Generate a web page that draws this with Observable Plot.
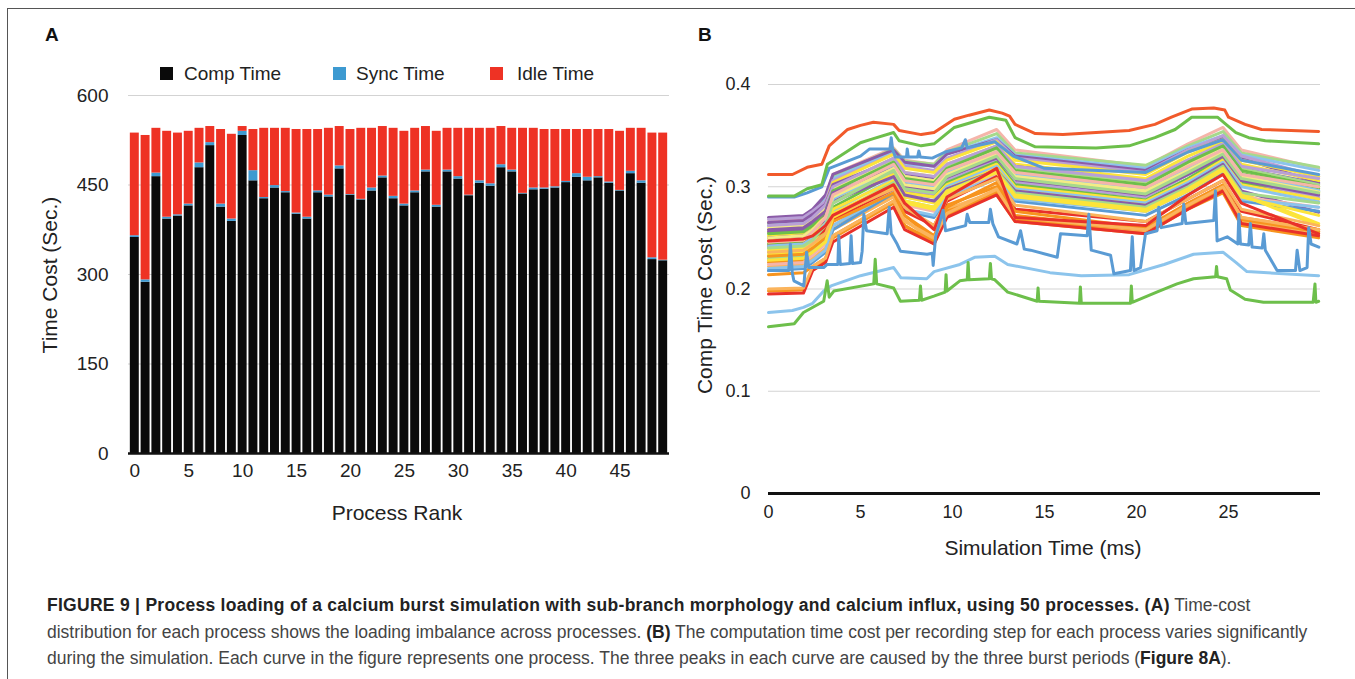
<!DOCTYPE html>
<html>
<head>
<meta charset="utf-8">
<script src="https://cdn.jsdelivr.net/npm/d3@7"></script>
<script src="https://cdn.jsdelivr.net/npm/@observablehq/plot@0.6"></script>
<style>
  html, body { margin: 0; padding: 0; background: #fff; }
  body { width: 1355px; height: 679px; position: relative; overflow: hidden;
         font-family: "Liberation Sans", Arial, Helvetica, sans-serif; color: #222; }
  .abs { position: absolute; white-space: nowrap; }
  #frame { position: absolute; left: 7px; top: 8px; width: 1400px; height: 700px;
           border-top: 1.5px solid #555; border-left: 1.5px solid #555; }
  .panel { font-weight: bold; font-size: 19px; color: #111; }
  .leg { font-size: 19px; color: #222; line-height: 20px; }
  .sw { position: absolute; width: 13px; height: 13px; }
  .atitle { font-size: 21px; color: #222; }
  .rot { transform: translate(-50%, -50%) rotate(-90deg); }
  .hc { transform: translate(-50%, -50%); }
  #caption { left: 47px; top: 592px; font-size: 17.5px; line-height: 26.5px; color: #444; }
  #caption b { color: #222; }
  #caption b.wide { letter-spacing: 0.28px; }
</style>
</head>
<body>
<div id="frame"></div>
<div class="abs panel" style="left:45px;top:24px;">A</div>
<div class="abs panel" style="left:698px;top:24px;">B</div>

<div class="sw" style="left:160px;top:67px;background:#0a0a0a;"></div>
<div class="abs leg" style="left:184px;top:64px;">Comp Time</div>
<div class="sw" style="left:333px;top:67px;background:#3d9ad1;"></div>
<div class="abs leg" style="left:356px;top:64px;">Sync Time</div>
<div class="sw" style="left:490px;top:67px;background:#ee3224;"></div>
<div class="abs leg" style="left:517px;top:64px;">Idle Time</div>

<div id="chartA" class="abs" style="left:0;top:0;"></div>
<div id="chartB" class="abs" style="left:680px;top:0;"></div>

<div class="abs atitle rot" style="left:50px;top:275px;">Time Cost (Sec.)</div>
<div class="abs atitle hc" style="left:397px;top:513px;">Process Rank</div>
<div class="abs atitle rot" style="left:705px;top:285px;">Comp Time Cost (Sec.)</div>
<div class="abs atitle hc" style="left:1043px;top:548px;">Simulation Time (ms)</div>

<div id="caption" class="abs"><b class="wide">FIGURE 9 | Process loading of a calcium burst simulation with sub-branch morphology and calcium influx, using 50 processes. (A)</b> Time-cost<br>distribution for each process shows the loading imbalance across processes. <b>(B)</b> The computation time cost per recording step for each process varies significantly<br>during the simulation. Each curve in the figure represents one process. The three peaks in each curve are caused by the three burst periods (<b>Figure 8A</b>).</div>

<script>
// ---------------- Panel A data ----------------
const ranks = [0,1,2,3,4,5,6,7,8,9,10,11,12,13,14,15,16,17,18,19,20,21,22,23,24,25,26,27,28,29,30,31,32,33,34,35,36,37,38,39,40,41,42,43,44,45,46,47,48,49];
const rankTicks = [0,5,10,15,20,25,30,35,40,45];
const compTime = [362,287,464,393,398,415,479,516,413,389,533,457,427,445,437,401,393,437,430,477,433,425,440,462,427,415,437,472,413,472,460,432,453,448,479,472,435,442,443,445,454,463,457,462,453,440,469,453,325,323];
const syncTime = [3,4,6,3,2,3,8,5,5,4,7,17,2,4,2,2,3,3,3,5,1,1,5,3,4,3,3,3,3,3,4,1,4,4,5,3,1,3,2,2,2,6,6,2,2,1,4,4,3,1];
const idleTime = [172,242,75,144,137,122,58,27,125,142,8,69,116,96,106,140,147,103,112,66,109,119,100,83,114,122,105,73,124,70,81,112,88,93,64,70,109,100,98,96,87,74,80,79,88,99,72,88,209,213];
const kinds = ["Comp Time", "Sync Time", "Idle Time"];
const kindColors = ["#0a0a0a", "#3d9ad1", "#ee3224"];
const yTicksA = [0,150,300,450,600];

// ---------------- Panel B data ----------------
const xTicksB = [0,5,10,15,20,25];
const yTicksB = [0,0.1,0.2,0.3,0.4];
const palette = {
  red: "#e8312a", orange: "#f7941e", lorange: "#fbb45c", yellow: "#fce43a", lyellow: "#f3ec86",
  green: "#6dbf4b", lgreen: "#a6d98c", blue: "#5a9bd4", lblue: "#8cc4ec", purple: "#8b5ca8",
  lpurple: "#b9a0d6", pink: "#f5b5aa", ored: "#f15a2b"
};
// time points (ms) at which each bundle curve is read; values in ms (computation time per step)
const bandTimes = [0,1.9,2.4,3.1,3.5,6.8,7.4,9.0,9.7,12.4,13.4,20.5,22.8,24.7,25.7,29.9];
const bandColors = ["pink","lgreen","lblue","purple","lpurple","yellow","yellow","purple","green","lgreen","lblue","yellow","lyellow","purple","lpurple","green","yellow","lblue","orange","lorange","orange","yellow","purple","pink","lgreen","blue","lblue","yellow","red","lyellow","lpurple","green","lblue","orange","yellow","purple","orange","red","lorange","lorange","lyellow","lgreen","pink","red"];
const bandMs = [
  [266,268,276,290,312,338,326,322,336,356,336,320,342,358,336,318],
  [264,266,274,290,310,337,325,322,334,352,333,321,340,354,333,319],
  [262,265,272,288,308,334,322,320,332,348,331,318,338,350,331,316],
  [270,272,278,292,312,336,324,320,332,346,330,316,336,348,328,304],
  [268,270,276,286,306,332,320,316,328,346,328,314,336,350,330,310],
  [258,260,268,282,304,332,318,314,326,344,326,312,334,346,326,310],
  [255,257,264,278,300,328,314,310,322,340,322,308,330,344,322,306],
  [265,267,273,283,302,326,312,308,320,338,320,305,326,340,318,303],
  [244,246,252,266,290,322,306,302,316,336,314,300,322,338,314,298],
  [250,252,258,272,296,326,310,306,320,340,318,304,326,342,318,302],
  [236,238,246,260,286,318,302,298,314,334,312,298,320,336,312,296],
  [252,254,260,272,292,320,304,300,314,332,312,296,318,336,312,294],
  [248,250,256,268,290,318,300,296,310,330,308,294,316,334,310,292],
  [256,258,264,274,292,318,300,296,308,326,306,290,312,330,304,288],
  [240,242,250,262,284,314,296,292,306,326,304,290,312,330,306,290],
  [232,234,242,256,280,312,294,290,304,324,302,287,308,328,304,295],
  [246,248,254,266,286,312,294,290,302,322,300,286,306,326,302,288],
  [228,230,238,252,276,308,290,286,300,320,298,284,304,324,300,285],
  [226,228,234,246,262,292,272,248,282,300,272,258,282,298,268,256],
  [222,224,230,240,258,290,268,246,278,296,268,256,280,296,266,254],
  [214,216,222,230,252,286,262,244,276,292,266,254,278,294,262,250],
  [238,240,248,258,278,306,290,284,298,318,296,282,300,320,294,264],
  [250,252,258,268,286,310,292,286,298,316,296,282,302,322,296,275],
  [224,226,233,244,266,300,282,276,292,312,290,276,296,318,290,280],
  [230,232,238,250,272,304,286,280,296,316,294,280,300,320,294,284],
  [218,220,226,236,258,294,276,270,288,308,286,272,292,314,286,276],
  [220,222,228,238,262,296,278,272,290,310,288,276,296,316,288,280],
  [234,236,242,254,274,302,286,280,296,314,292,278,298,318,292,262],
  [242,244,250,258,268,298,276,262,286,310,278,266,288,306,276,258],
  [260,262,268,280,298,324,310,306,318,336,316,302,322,338,316,300],
  [262,264,270,282,300,328,314,310,322,340,320,306,326,342,320,308],
  [254,256,262,276,296,324,308,304,318,338,316,302,324,340,316,300],
  [242,244,250,264,288,320,304,300,314,334,312,298,318,336,312,296],
  [232,234,240,250,266,294,272,252,280,304,276,260,284,302,270,258],
  [228,230,236,246,270,300,284,278,294,314,290,276,296,316,290,272],
  [258,260,266,276,294,318,302,296,310,328,308,292,312,330,306,292],
  [198,199,220,228,250,284,262,246,272,294,268,258,280,300,268,256],
  [195,196,218,226,246,280,258,244,270,292,266,254,278,296,264,252],
  [200,201,222,230,252,286,266,250,274,298,270,258,282,300,270,258],
  [236,238,244,254,272,298,280,262,288,308,282,266,288,306,278,262],
  [250,252,258,270,290,318,302,298,312,332,310,296,316,334,310,295],
  [240,242,248,262,284,316,298,294,310,330,308,293,314,332,308,294],
  [246,248,256,270,292,322,306,302,316,334,314,299,320,336,312,300],
  [247,249,252,262,272,302,284,258,290,318,270,262,292,312,284,254]
];
// individually traced curves: [time ms, value ms]
const curveLightBlue = [[0,177],[1.3,179],[1.9,182],[2.4,186],[3.0,198],[3.4,203],[5,213],[6.8,221],[7.2,211],[8.6,210],[9.0,217],[10.4,224],[11.2,231],[12.3,232],[13.0,224],[15.3,216],[17,213],[19.6,214],[21.5,224],[23.1,234],[24.7,236],[25.4,226],[26,217],[29.9,213]];
const curveLowGreen = [[0,163],[1.4,166],[1.9,177],[3.0,188],[3.19,208],[3.3,192],[3.55,198],[5.72,205],[5.8,229],[5.88,205],[6.8,201],[7.17,188],[8.2,189],[8.26,203],[8.32,189],[8.99,193],[9.6,197],[9.65,214],[9.7,198],[10.4,208],[10.8,209],[10.85,226],[10.9,209],[12.0,210],[12.06,225],[12.12,210],[12.3,209],[13.0,197],[14.6,188],[14.65,201],[14.7,188],[16.9,186],[16.95,202],[17.0,186],[19.67,186],[19.72,203],[19.77,187],[21.1,197],[22.2,205],[23.1,210],[24.3,212],[24.35,222],[24.4,212],[24.9,210],[25.1,199],[25.9,190],[26.9,187],[29.6,187],[29.7,205],[29.75,187],[29.9,188]];
const curveUpperBlue = [[0,290],[1.4,290],[2.1,294],[2.9,300],[3.3,318],[5,330],[5.5,337],[6.6,337],[6.67,348],[6.75,336],[6.9,329],[7.5,329],[7.54,337],[7.6,329],[8.1,329],[8.17,335],[8.25,329],[8.9,328],[9.6,334],[10.5,338],[10.7,346],[10.8,338],[12.3,344],[13.3,330],[15,318],[20.5,314],[22.8,334],[24.7,346],[25.7,326],[29.9,312]];
const curveGreen = [[0,291],[1.4,291],[2.1,298],[2.9,302],[3.2,322],[5,343],[5.7,347],[6.8,353],[7.1,345],[8.3,340],[9,342],[10.1,358],[12,368],[12.9,365],[13.4,348],[14.5,339],[17.8,338],[19.6,340],[21,348],[22.1,356],[23,368],[24.4,368],[24.8,362],[25.4,353],[26.1,348],[27,345],[29.9,342]];
const curveTopRed = [[0,312],[1.3,312],[2.1,319],[2.9,322],[3.3,340],[4.3,356],[5,360],[5.7,363],[6.8,361],[7.1,355],[8.3,351],[9,353],[10.1,366],[10.9,370],[12,375],[12.7,372],[13.1,369],[13.4,361],[14.5,352],[16,351],[17.8,353],[19.6,355],[21,361],[21.9,368],[23,376],[24.2,377],[24.8,375],[25.0,368],[25.9,361],[26.8,356],[29.9,354]];
const curveSpikyBlue = [[0,218],[1.1,218],[1.19,244],[1.29,216],[1.38,208],[1.92,203],[2.07,236],[2.19,221],[3.0,221],[3.19,224],[3.77,224],[3.82,252],[3.9,224],[4.42,225],[4.49,252],[4.56,225],[5.0,226],[5.09,237],[5.18,273],[5.33,257],[6.45,254],[6.56,280],[6.67,254],[6.99,244],[7.17,237],[8.62,234],[8.9,235],[8.95,223],[9.08,251],[9.49,277],[9.62,257],[10.71,262],[10.8,273],[10.94,265],[11.97,265],[12.06,278],[12.19,264],[12.5,251],[13.5,244],[13.7,257],[13.9,239],[14.24,238],[15.69,231],[15.87,254],[17.32,252],[17.41,273],[17.54,238],[18.59,233],[18.77,215],[19.67,218],[19.77,251],[19.86,218],[20.22,221],[20.49,254],[21.12,257],[21.21,280],[21.34,260],[22.48,264],[22.57,283],[22.68,264],[24.2,267],[24.29,296],[24.38,247],[24.93,251],[25.51,244],[25.56,273],[25.65,244],[26.1,243],[26.19,264],[26.28,241],[26.83,240],[26.92,254],[27.0,238],[27.64,218],[28.64,218],[28.73,238],[28.88,218],[29.27,221],[29.36,260],[29.49,244],[29.91,241]];
const tracedCurves = [
  {id: "lightBlue", color: "lblue", pts: curveLightBlue},
  {id: "lowGreen", color: "green", pts: curveLowGreen},
  {id: "upperBlue", color: "blue", pts: curveUpperBlue},
  {id: "green", color: "green", pts: curveGreen},
  {id: "topRed", color: "ored", pts: curveTopRed},
  {id: "spikyBlue", color: "blue", pts: curveSpikyBlue}
];

const FONT = "'Liberation Sans', Arial, Helvetica, sans-serif";

// ---------------- Panel A ----------------
const barRows = ranks.flatMap(r => [
  {rank: r, kind: kinds[0], value: compTime[r]},
  {rank: r, kind: kinds[1], value: syncTime[r]},
  {rank: r, kind: kinds[2], value: idleTime[r]}
]);

const chartA = Plot.plot({
  width: 680, height: 540,
  marginLeft: 128, marginRight: 11, marginTop: 95, marginBottom: 87,
  style: {fontSize: "19px", fontFamily: FONT, color: "#222", background: "transparent"},
  x: {type: "band", domain: ranks, padding: 0.17, label: null},
  y: {domain: [0, 600], label: null},
  color: {domain: kinds, range: kindColors},
  marks: [
    Plot.gridY(yTicksA.filter(d => d > 0), {stroke: "#d3d3d3", strokeOpacity: 1, strokeWidth: 1}),
    Plot.barY(barRows, {x: "rank", y: "value", fill: "kind"}),
    Plot.ruleY([0], {stroke: "#111", strokeWidth: 2.5}),
    Plot.axisY({ticks: yTicksA, tickSize: 0, tickPadding: 20, label: null}),
    Plot.axisX({ticks: rankTicks, tickSize: 0, tickPadding: 10, label: null})
  ]
});
document.getElementById("chartA").appendChild(chartA);

// ---------------- Panel B ----------------
const lineRows = [];
bandMs.forEach((row, i) => row.forEach((ms, j) =>
  lineRows.push({id: "p" + i, t: bandTimes[j], v: ms / 1000, c: palette[bandColors[i]]})));
tracedCurves.forEach(s => s.pts.forEach(([t, ms]) =>
  lineRows.push({id: s.id, t: t, v: ms / 1000, c: palette[s.color]})));

const chartB = Plot.plot({
  width: 675, height: 560,
  marginLeft: 88, marginRight: 35, marginTop: 84, marginBottom: 67,
  style: {fontSize: "18px", fontFamily: FONT, color: "#222", background: "transparent"},
  x: {domain: [0, 30], label: null},
  y: {domain: [0, 0.4], label: null},
  color: {type: "identity"},
  marks: [
    Plot.gridY(yTicksB.filter(d => d > 0), {stroke: "#d3d3d3", strokeOpacity: 1, strokeWidth: 1}),
    Plot.line(lineRows, {x: "t", y: "v", z: "id", stroke: "c", strokeWidth: 3,
      strokeLinejoin: "round", strokeLinecap: "round", curve: "linear"}),
    Plot.ruleY([0], {stroke: "#111", strokeWidth: 3}),
    Plot.axisY({ticks: yTicksB, tickSize: 0, tickPadding: 18, label: null,
      tickFormat: d => d === 0 ? "0" : d.toFixed(1)}),
    Plot.axisX({ticks: xTicksB, tickSize: 0, tickPadding: 12, label: null})
  ]
});
document.getElementById("chartB").appendChild(chartB);
</script>
</body>
</html>
